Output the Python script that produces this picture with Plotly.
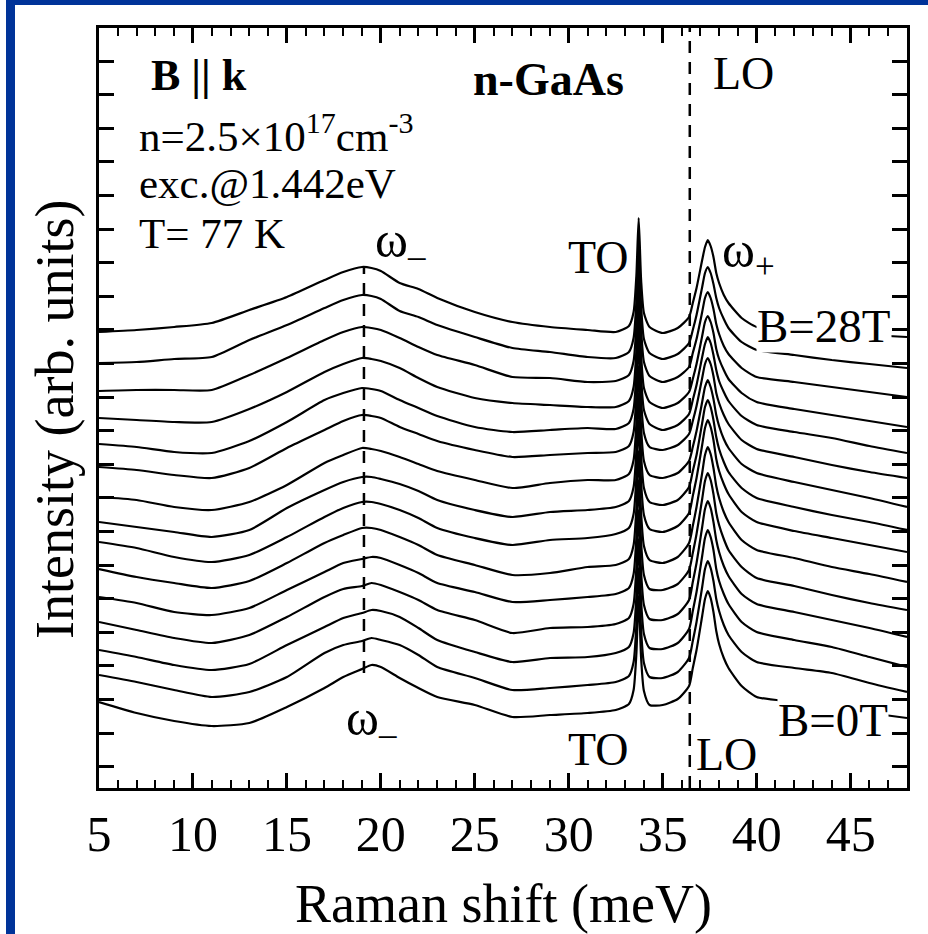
import plotly.graph_objects as go

FONT = "Liberation Serif"

# Raman shift sample points (meV)
RAMAN_SHIFT = [5, 7, 9, 11, 13, 15, 17, 18, 19, 19.5, 20, 21, 22, 23, 25, 27, 29, 31, 32.5,
               33.2, 33.45, 33.6, 33.72, 33.85, 34.0, 34.3, 35, 35.8, 36.4,
               36.6, 36.8, 37.1, 37.25, 37.4, 37.55, 37.7, 37.85, 38.0, 38.25, 38.5,
               39.2, 40, 42, 44, 46, 48]

# offset spectra (arb. units)
I_B00 = [98, 87, 79, 74, 77, 93, 112, 123, 131, 135, 133, 122, 112, 103, 95, 83, 85, 87, 90, 96, 110, 147, 204, 142, 109, 95, 95, 101, 114,
         132, 150, 184, 201, 209, 202, 188, 169, 156, 142, 132, 114, 103, 98, 92, 87, 82]
I_B02 = [125, 118, 110, 103, 108, 123, 147, 155, 159, 162, 160, 155, 145, 133, 122, 110, 112, 115, 118, 124, 138, 175, 232, 170, 137, 123, 122, 128, 142,
         159, 178, 213, 231, 239, 232, 219, 201, 189, 175, 165, 148, 138, 132, 127, 117, 108]
I_B04 = [150, 143, 135, 130, 136, 155, 173, 182, 187, 190, 189, 183, 172, 160, 148, 138, 142, 143, 147, 153, 167, 204, 261, 199, 166, 152, 151, 157, 171,
         189, 208, 244, 262, 270, 263, 250, 231, 219, 206, 196, 178, 168, 160, 153, 143, 133]
I_B06 = [178, 170, 162, 157, 165, 183, 203, 211, 214, 217, 215, 208, 200, 190, 180, 167, 172, 173, 176, 182, 196, 233, 290, 228, 195, 181, 180, 186, 200,
         218, 237, 273, 291, 299, 292, 278, 260, 248, 234, 224, 206, 196, 188, 180, 172, 163]
I_B08 = [203, 197, 188, 185, 192, 210, 228, 237, 241, 243, 242, 235, 227, 217, 208, 198, 200, 203, 206, 212, 226, 263, 320, 258, 225, 211, 210, 216, 230,
         247, 266, 301, 319, 327, 320, 306, 287, 275, 261, 250, 233, 222, 214, 205, 197, 190]
I_B10 = [231, 223, 217, 212, 219, 237, 257, 265, 272, 272, 270, 263, 255, 245, 235, 225, 227, 233, 235, 241, 255, 292, 349, 287, 254, 240, 237, 243, 257,
         274, 293, 327, 345, 353, 346, 332, 314, 302, 288, 278, 260, 250, 242, 233, 226, 218]
I_B12 = [258, 252, 243, 238, 245, 263, 283, 292, 298, 298, 296, 290, 282, 272, 262, 255, 260, 262, 266, 272, 286, 323, 380, 318, 285, 271, 268, 274, 287,
         304, 322, 355, 372, 380, 373, 360, 341, 329, 316, 306, 288, 278, 269, 262, 255, 248]
I_B14 = [278, 273, 268, 263, 270, 292, 310, 318, 323, 323, 321, 316, 309, 300, 290, 283, 288, 290, 293, 299, 313, 350, 407, 345, 312, 298, 295, 300, 313,
         329, 345, 377, 393, 400, 393, 380, 363, 351, 338, 328, 312, 302, 293, 285, 278, 270]
I_B16 = [303, 300, 293, 290, 298, 315, 337, 345, 352, 351, 349, 343, 336, 329, 320, 312, 317, 320, 320, 326, 340, 377, 434, 372, 339, 325, 322, 327, 339,
         353, 369, 398, 413, 420, 413, 401, 385, 374, 361, 352, 336, 327, 318, 310, 302, 293]
I_B18 = [333, 330, 325, 322, 332, 352, 370, 379, 385, 384, 382, 373, 366, 359, 350, 343, 345, 347, 348, 354, 368, 405, 462, 400, 367, 353, 350, 355, 366,
         379, 394, 422, 436, 442, 436, 424, 407, 397, 385, 376, 360, 351, 343, 335, 328, 322]
I_B20 = [356, 353, 348, 347, 359, 378, 400, 407, 412, 411, 409, 400, 392, 384, 373, 368, 370, 372, 371, 377, 391, 428, 485, 423, 390, 376, 370, 375, 386,
         400, 415, 443, 456, 463, 457, 445, 430, 419, 408, 399, 384, 375, 368, 362, 354, 347]
I_B22 = [382, 380, 378, 378, 391, 408, 428, 436, 442, 441, 439, 432, 422, 413, 402, 397, 395, 393, 393, 399, 413, 450, 507, 445, 412, 398, 392, 397, 408,
         421, 436, 464, 478, 484, 478, 467, 451, 441, 430, 421, 407, 398, 391, 385, 379, 373]
I_B24 = [409, 410, 410, 410, 425, 442, 460, 468, 473, 472, 470, 462, 453, 445, 435, 423, 422, 418, 419, 425, 439, 476, 533, 471, 438, 424, 418, 423, 433,
         447, 461, 488, 502, 508, 502, 491, 476, 466, 454, 446, 432, 423, 418, 413, 408, 403]
I_B26 = [437, 438, 441, 443, 460, 475, 492, 500, 505, 504, 501, 489, 483, 475, 463, 452, 448, 443, 442, 448, 462, 499, 556, 494, 461, 447, 441, 446, 457,
         470, 485, 513, 527, 533, 527, 516, 502, 492, 481, 472, 458, 450, 445, 440, 436, 432]
I_B28 = [468, 470, 473, 477, 490, 503, 520, 528, 533, 532, 529, 517, 511, 502, 488, 478, 473, 470, 468, 474, 488, 525, 582, 520, 487, 473, 467, 472, 483,
         497, 512, 540, 553, 560, 554, 543, 527, 517, 505, 497, 482, 473, 470, 467, 465, 463]

FIELDS_T = [0, 2, 4, 6, 8, 10, 12, 14, 16, 18, 20, 22, 24, 26, 28]
SPECTRA = [I_B00, I_B02, I_B04, I_B06, I_B08, I_B10, I_B12, I_B14,
           I_B16, I_B18, I_B20, I_B22, I_B24, I_B26, I_B28]

# phonon / mode positions (meV)
LO_ENERGY = 36.44
OMEGA_MINUS = 19.1
OMEGA_MINUS_SPAN = [127, 532]

X_RANGE = [5, 48]
Y_RANGE = [12, 772]

fig = go.Figure()
for b, spec in zip(FIELDS_T, SPECTRA):
    assert len(spec) == len(RAMAN_SHIFT)
    fig.add_trace(go.Scatter(x=RAMAN_SHIFT, y=spec, mode="lines",
                             line=dict(color="black", width=2.2, shape="spline",
                                       smoothing=0.6),
                             name=f"B={b}T", showlegend=False))

# plot-area geometry in pixels (for text placement)
L, R, T, B = 99, 21, 28, 146
W, H = 928 - L - R, 934 - T - B


def px2x(px):
    return (px - L) / W


def py2y(py):
    return (934 - B - py) / H


def ann(text, px, py, size, anchor="left", bg="rgba(0,0,0,0)", angle=0):
    return dict(text=text, x=px2x(px), y=py2y(py), xref="paper", yref="paper",
                xanchor=anchor, yanchor="middle", showarrow=False, textangle=angle,
                bgcolor=bg, borderpad=0,
                font=dict(family=FONT, size=size, color="black"))


annotations = [
    ann("<b>B || k</b>", 150, 76, 44),
    ann("<b>n-GaAs</b>", 472, 79, 46),
    ann("n=2.5×10<sup>17</sup>cm<sup>-3</sup>", 138, 133, 43),
    ann("exc.@1.442eV", 138, 183, 43),
    ann("T= 77 K", 138, 233, 43),
    ann("LO", 712, 74, 46),
    ann("TO", 567, 257, 46),
    ann("ω<sub>+</sub>", 721, 254, 50),
    ann("ω<sub>–</sub>", 374, 244, 50),
    ann("B=28T", 756, 326, 47, bg="white"),
    ann("B=0T", 777, 720, 47, bg="white"),
    ann("TO", 567, 749, 46),
    ann("LO", 695, 754, 46),
    ann("ω<sub>–</sub>", 345, 722, 50),
    ann("Raman shift (meV)", 503, 904, 54, anchor="center"),
    ann("Intensity (arb. units)", 55, 420, 54, anchor="center", angle=-90),
]

BLUE = "#003399"
shapes = [
    dict(type="line", xref="x", yref="paper", x0=LO_ENERGY, x1=LO_ENERGY, y0=0, y1=1,
         line=dict(color="black", width=2.5, dash="12px,9px")),
    dict(type="line", xref="x", yref="y", x0=OMEGA_MINUS, x1=OMEGA_MINUS,
         y0=OMEGA_MINUS_SPAN[0], y1=OMEGA_MINUS_SPAN[1],
         line=dict(color="black", width=2.5, dash="12px,9px")),
    # blue frame of the picture
    dict(type="rect", xref="paper", yref="paper", x0=px2x(6), x1=px2x(15),
         y0=py2y(934), y1=py2y(0), fillcolor=BLUE, line=dict(width=0)),
    dict(type="rect", xref="paper", yref="paper", x0=px2x(6), x1=px2x(928),
         y0=py2y(5), y1=py2y(0), fillcolor=BLUE, line=dict(width=0)),
]

axis_common = dict(showline=True, linewidth=3, linecolor="black", mirror="allticks",
                   ticks="inside", ticklen=15, tickwidth=2.5, tickcolor="black",
                   showgrid=False, zeroline=False)

fig.update_layout(
    width=928, height=934,
    margin=dict(l=L, r=R, t=T, b=B),
    paper_bgcolor="white", plot_bgcolor="white",
    showlegend=False,
    xaxis=dict(range=X_RANGE, tickmode="linear", tick0=5, dtick=5,
               tickfont=dict(family=FONT, size=50, color="black"),
               minor=dict(tick0=5, dtick=1, ticks="inside", ticklen=8, tickwidth=2,
                          tickcolor="black", showgrid=False),
               **axis_common),
    yaxis=dict(range=Y_RANGE, tickmode="linear", tick0=33.4, dtick=33.6,
               showticklabels=False, **axis_common),
    annotations=annotations,
    shapes=shapes,
)

fig.write_html("out.html",
               config={"displayModeBar": False},
               post_script="document.body.style.margin='0px';"
                           "document.body.style.overflow='hidden';")
